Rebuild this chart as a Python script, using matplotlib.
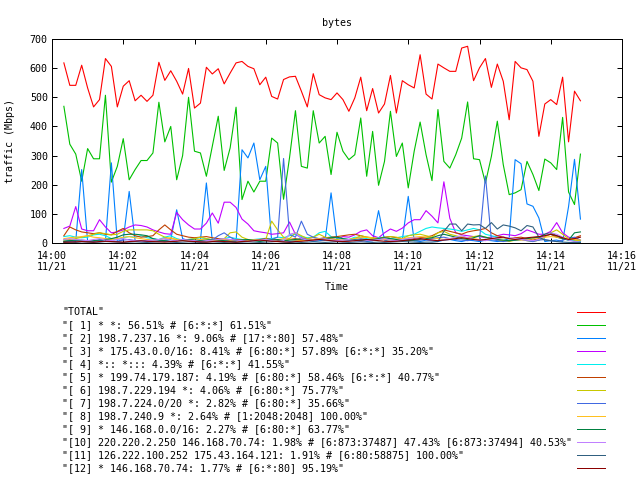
import pandas as pd
import matplotlib
matplotlib.use('Agg')
import matplotlib.pyplot as plt
import matplotlib.dates as mdates

# valores (Mbps, una muestra cada 10 s desde 14:00:20)
total = [618, 541, 541, 610, 532, 467, 492, 633, 606, 467, 538, 557, 488, 507, 486, 507, 620, 558, 591, 555, 511, 599, 463,
         480, 603, 580, 598, 546, 583, 618, 623, 606, 598, 543, 569, 503, 494, 561, 570, 572, 521, 467, 581, 509, 498, 492, 515,
         492, 452, 498, 569, 454, 530, 446, 477, 575, 446, 557, 543, 532, 646, 511, 494, 614, 601, 589, 589, 669, 675, 557,
         601, 633, 534, 614, 555, 423, 623, 601, 595, 555, 366, 477, 492, 475, 569, 347, 521, 488]
s1 = [469, 339, 305, 212, 324, 289, 289, 507, 209, 263, 358, 217, 252, 283, 283, 309, 483, 347, 400, 217, 300, 500, 315,
      309, 229, 332, 435, 249, 326, 466, 149, 212, 175, 212, 212, 360, 343, 150, 292, 454, 263, 257, 454, 343, 366, 235, 380,
      315, 286, 303, 429, 229, 383, 198, 280, 452, 297, 343, 189, 315, 415, 303, 214, 458, 280, 257, 303, 360, 484, 289,
      286, 206, 297, 418, 269, 166, 172, 183, 280, 235, 180, 288, 275, 252, 431, 175, 132, 305]
s2 = [10, 8, 5, 252, 5, 8, 10, 5, 275, 5, 12, 177, 8, 5, 10, 8, 5, 10, 12, 114, 15, 8, 5,
      10, 206, 8, 5, 10, 8, 5, 320, 292, 343, 217, 263, 5, 8, 10, 5, 8, 12, 10, 5, 8, 10, 172, 8,
      5, 10, 8, 12, 5, 8, 111, 10, 5, 8, 10, 160, 8, 5, 10, 8, 5, 10, 12, 8, 5, 10, 8,
      5, 10, 8, 5, 8, 15, 286, 272, 134, 126, 86, 5, 8, 10, 5, 125, 287, 82]
s3 = [50, 58, 125, 48, 42, 42, 80, 55, 35, 38, 45, 55, 62, 60, 55, 45, 38, 32, 30, 105, 80, 62, 48,
      48, 68, 103, 68, 140, 140, 122, 82, 65, 42, 38, 35, 30, 32, 35, 72, 30, 18, 15, 12, 12, 18, 15, 12,
      22, 20, 28, 40, 45, 25, 18, 35, 48, 40, 51, 69, 80, 80, 111, 92, 69, 210, 85, 35, 28, 25, 22,
      22, 18, 20, 25, 30, 28, 25, 32, 45, 38, 30, 30, 40, 70, 35, 20, 15, 8]
s4 = [22, 25, 20, 18, 20, 28, 30, 25, 15, 12, 18, 22, 20, 25, 18, 15, 12, 20, 25, 15, 10, 12, 15,
      18, 15, 10, 12, 15, 20, 15, 12, 10, 12, 14, 16, 15, 20, 18, 25, 30, 22, 18, 20, 35, 40, 22, 18,
      15, 12, 20, 18, 15, 12, 18, 20, 15, 18, 22, 25, 30, 40, 50, 55, 52, 50, 48, 45, 40, 45, 50,
      45, 30, 25, 20, 18, 15, 12, 15, 10, 8, 10, 25, 30, 20, 15, 10, 8, 5]
s5 = [25, 55, 45, 38, 35, 32, 35, 30, 28, 40, 50, 35, 25, 20, 22, 25, 45, 62, 45, 30, 25, 20, 18,
      20, 22, 18, 15, 12, 10, 12, 10, 8, 10, 12, 15, 12, 10, 8, 12, 15, 10, 8, 12, 15, 18, 20, 22,
      25, 28, 30, 25, 20, 18, 15, 20, 22, 18, 15, 12, 15, 18, 20, 25, 35, 45, 40, 35, 30, 38, 42,
      45, 50, 35, 25, 20, 15, 18, 20, 15, 10, 15, 25, 30, 20, 15, 12, 18, 25]
s6 = [10, 12, 15, 20, 25, 30, 35, 32, 28, 30, 40, 45, 45, 45, 45, 42, 30, 20, 15, 12, 10, 12, 15,
      20, 15, 12, 10, 15, 35, 38, 20, 12, 10, 8, 12, 75, 45, 20, 15, 35, 25, 15, 20, 30, 20, 15, 12,
      10, 12, 15, 25, 20, 15, 12, 18, 22, 20, 15, 25, 28, 30, 25, 20, 35, 40, 30, 25, 20, 18, 22,
      25, 20, 15, 10, 8, 5, 10, 12, 8, 5, 10, 20, 35, 45, 30, 15, 10, 8]
s7 = [5, 5, 8, 10, 8, 5, 10, 12, 8, 5, 10, 12, 8, 5, 5, 8, 10, 8, 5, 8, 12, 10, 8,
      5, 8, 10, 25, 35, 20, 10, 5, 8, 10, 8, 10, 12, 20, 290, 30, 20, 75, 30, 20, 15, 10, 8, 5,
      8, 10, 12, 15, 10, 8, 12, 15, 10, 8, 12, 10, 8, 10, 12, 15, 18, 20, 15, 12, 10, 8, 12,
      10, 230, 12, 8, 5, 8, 10, 12, 8, 5, 10, 12, 8, 5, 10, 15, 20, 10]
s8 = [15, 18, 20, 22, 25, 20, 18, 15, 12, 15, 20, 22, 18, 15, 12, 10, 12, 15, 18, 12, 10, 8, 10,
      12, 10, 8, 10, 12, 10, 8, 5, 8, 10, 12, 10, 8, 12, 15, 12, 10, 8, 10, 12, 15, 12, 10, 8,
      10, 12, 15, 18, 20, 18, 15, 12, 10, 12, 15, 18, 20, 22, 20, 18, 15, 12, 15, 18, 20, 18, 15,
      12, 10, 12, 15, 18, 15, 12, 10, 12, 15, 18, 20, 22, 20, 18, 15, 12, 10]
s9 = [5, 8, 10, 8, 5, 8, 10, 12, 15, 20, 28, 30, 30, 28, 25, 15, 10, 8, 5, 8, 10, 12, 10,
      8, 10, 12, 10, 8, 5, 8, 10, 12, 8, 5, 8, 10, 12, 8, 10, 12, 15, 10, 8, 12, 15, 18, 20,
      15, 12, 10, 8, 10, 12, 15, 18, 15, 12, 10, 8, 10, 12, 15, 18, 25, 30, 25, 20, 15, 12, 18,
      25, 20, 15, 12, 10, 8, 10, 12, 15, 18, 20, 30, 35, 25, 15, 10, 35, 38]
s10 = [12, 15, 12, 10, 8, 12, 15, 10, 8, 12, 15, 10, 8, 5, 8, 10, 12, 15, 10, 8, 12, 10, 8,
       5, 8, 10, 12, 15, 12, 10, 8, 5, 8, 10, 12, 8, 5, 8, 30, 35, 15, 10, 8, 12, 15, 10, 8,
       10, 12, 8, 5, 8, 10, 12, 15, 10, 8, 12, 15, 18, 15, 12, 10, 8, 12, 15, 20, 25, 18, 12,
       10, 8, 12, 15, 20, 18, 15, 12, 10, 8, 12, 25, 35, 30, 20, 10, 5, 3]
s11 = [2, 3, 2, 4, 3, 2, 3, 5, 4, 3, 2, 3, 4, 3, 2, 3, 4, 5, 3, 2, 3, 4, 3,
       2, 3, 4, 3, 2, 3, 2, 3, 4, 3, 2, 3, 4, 5, 3, 2, 3, 2, 3, 4, 3, 2, 3, 4,
       3, 2, 3, 4, 3, 2, 3, 2, 3, 4, 5, 4, 3, 2, 3, 3, 5, 40, 65, 65, 42, 65, 62,
       63, 50, 70, 48, 62, 58, 52, 42, 60, 55, 20, 10, 8, 5, 3, 2, 2, 2]
s12 = [3, 3, 4, 5, 4, 3, 5, 6, 5, 4, 3, 5, 6, 8, 6, 5, 4, 3, 5, 6, 8, 6, 5,
       4, 3, 5, 6, 5, 4, 3, 5, 6, 8, 10, 8, 6, 5, 4, 3, 5, 6, 8, 10, 12, 10, 8, 6,
       5, 6, 8, 10, 12, 10, 8, 6, 5, 6, 8, 10, 12, 15, 12, 10, 8, 10, 12, 15, 18, 15, 12,
       10, 12, 15, 18, 20, 15, 12, 15, 18, 20, 22, 25, 30, 25, 18, 12, 15, 20]

labels = [
    '"TOTAL"',
    '"[ 1] * *: 56.51% # [6:*:*] 61.51%"',
    '"[ 2] 198.7.237.16 *: 9.06% # [17:*:80] 57.48%"',
    '"[ 3] * 175.43.0.0/16: 8.41% # [6:80:*] 57.89% [6:*:*] 35.20%"',
    '"[ 4] *:: *::: 4.39% # [6:*:*] 41.55%"',
    '"[ 5] * 199.74.179.187: 4.19% # [6:80:*] 58.46% [6:*:*] 40.77%"',
    '"[ 6] 198.7.229.194 *: 4.06% # [6:80:*] 75.77%"',
    '"[ 7] 198.7.224.0/20 *: 2.82% # [6:80:*] 35.66%"',
    '"[ 8] 198.7.240.9 *: 2.64% # [1:2048:2048] 100.00%"',
    '"[ 9] * 146.168.0.0/16: 2.27% # [6:80:*] 63.77%"',
    '"[10] 220.220.2.250 146.168.70.74: 1.98% # [6:873:37487] 47.43% [6:873:37494] 40.53%"',
    '"[11] 126.222.100.252 175.43.164.121: 1.91% # [6:80:58875] 100.00%"',
    '"[12] * 146.168.70.74: 1.77% # [6:*:80] 95.19%"',
]

# colores por defecto de gnuplot (terminal png)
colors = ['#ff0000', '#00c000', '#0080ff', '#c000ff', '#00eeee', '#c04000', '#c8c800',
          '#4169e1', '#ffc020', '#008040', '#c080ff', '#306080', '#8b0000']

FONT = 'DejaVu Sans Mono'
FS = 7.2
LW = 0.72  # 1 pixel a 100 dpi


def main():
    series = [total, s1, s2, s3, s4, s5, s6, s7, s8, s9, s10, s11, s12]
    times = pd.date_range('2000-11-21 14:00:20', periods=len(total), freq='10s')

    plt.rcParams['font.family'] = FONT
    plt.rcParams['font.size'] = FS

    fig = plt.figure(figsize=(6.4, 4.8), dpi=100)
    ax = fig.add_axes([52 / 640, 1 - 243 / 480, 570 / 640, 204 / 480])

    for vals, col in zip(series, colors):
        ax.plot(times, vals, color=col, lw=0.8)

    ax.set_ylim(0, 700)
    ax.set_yticks(range(0, 701, 100))
    ax.set_xlim(pd.Timestamp('2000-11-21 14:00'), pd.Timestamp('2000-11-21 14:16'))
    ax.xaxis.set_major_locator(mdates.MinuteLocator(byminute=range(0, 60, 2)))
    ax.xaxis.set_major_formatter(mdates.DateFormatter('%H:%M\n%m/%d'))
    ax.tick_params(direction='in', length=3.6, width=LW, top=True, right=True,
                   labelsize=FS, color='black')
    ax.tick_params(axis='x', pad=5.5)
    ax.tick_params(axis='y', pad=3)
    for lab in ax.get_xticklabels():
        lab.set_linespacing(1.2)
    for sp in ax.spines.values():
        sp.set_linewidth(LW)

    ax.set_title('bytes', fontsize=FS, pad=9)
    ax.set_ylabel('traffic (Mbps)', fontsize=FS, labelpad=11)
    ax.set_xlabel('Time', fontsize=FS, labelpad=7)

    # leyenda al estilo gnuplot: texto a la izquierda, muestra de linea a la derecha
    lax = fig.add_axes([0, 0, 1, 1])
    lax.set_xlim(0, 640)
    lax.set_ylim(480, 0)
    lax.axis('off')
    for i, (lab, col) in enumerate(zip(labels, colors)):
        y = 312 + 13 * i
        lax.text(62, y, lab, ha='left', va='center', fontsize=FS)
        lax.plot([577, 605], [y, y], color=col, lw=LW, antialiased=False)

    fig.savefig('out.png', dpi=100)


if __name__ == '__main__':
    main()
